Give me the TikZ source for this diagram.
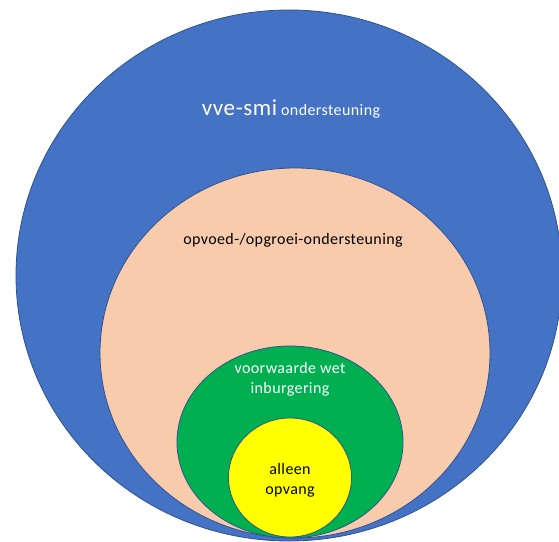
\documentclass[tikz,border=0pt]{standalone}
\usepackage{fontspec}
\setmainfont{Carlito}[LetterSpace=2.5]
\usetikzlibrary{shapes.geometric}
\definecolor{vveblue}{HTML}{4472C4}
\definecolor{ringedge}{HTML}{2F528F}
\definecolor{opvoedpeach}{HTML}{F8CBAD}
\definecolor{wetgreen}{HTML}{00B050}
\definecolor{opvangyellow}{HTML}{FFFF00}

\begin{document}
\begin{tikzpicture}
[
x=1pt, y=1pt,
ring/.style={ellipse, draw=ringedge, line width=0.8pt, inner sep=0},
wlabel/.style={text=white, align=center, font=\fontsize{16}{20}\selectfont},
blabel/.style={text=black, align=center, font=\fontsize{16}{20}\selectfont}
]
\useasboundingbox (0,0) rectangle (559,541);
\clip (0,0) rectangle (559,541);

\node[ring, fill=vveblue, minimum width=546, minimum height=531] (V) at (289, 265.5) {};
\node[ring, fill=opvoedpeach, minimum width=390, minimum height=370] (O) at (295, 188) {};
\node[ring, fill=wetgreen, minimum width=226, minimum height=192] (W) at (290, 99) {};
\node[ring, fill=opvangyellow, minimum width=123, minimum height=119] (A) at (290, 63.5) {};

\node[wlabel, anchor=base] (Vt) at (291, 425) {{\fontsize{23}{26}\selectfont vve-smi} ondersteuning};
\node[blabel, anchor=base] (Ot) at (293, 296) {opvoed-/opgroei-ondersteuning};
\node[wlabel] (Wt) at (290, 162) {voorwaarde wet\\inburgering};
\node[blabel] (At) at (290, 61) {alleen\\opvang};
\end{tikzpicture}
\end{document}
